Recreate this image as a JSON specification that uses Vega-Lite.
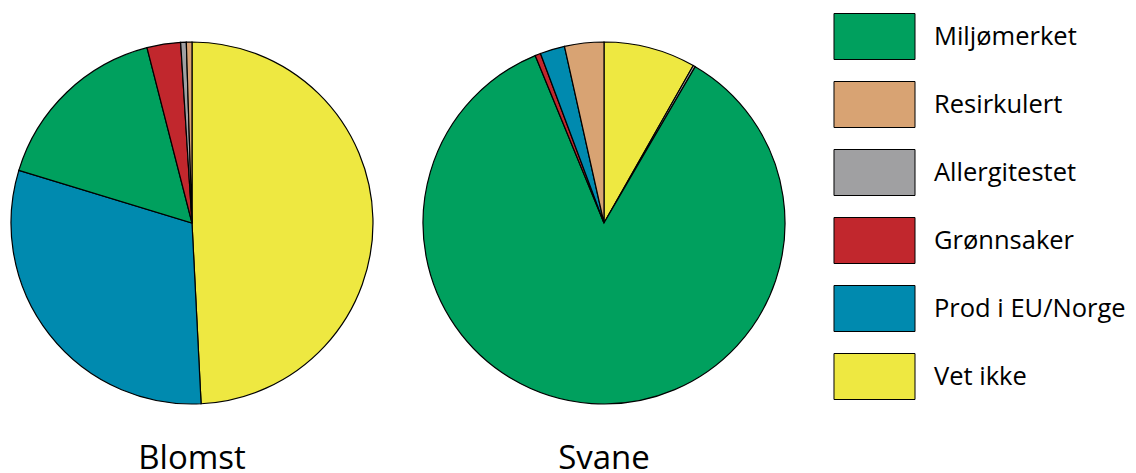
{
  "$schema": "https://vega.github.io/schema/vega-lite/v6.json",
  "padding": {"left": 8, "top": 13, "right": 0, "bottom": 0},
  "background": "white",
  "data": {"values": [
    {"chart": "Blomst", "category": "Vet ikke", "value": 49.2, "ord": 1},
    {"chart": "Blomst", "category": "Prod i EU/Norge", "value": 30.5, "ord": 2},
    {"chart": "Blomst", "category": "Miljømerket", "value": 16.3, "ord": 3},
    {"chart": "Blomst", "category": "Grønnsaker", "value": 3.0, "ord": 4},
    {"chart": "Blomst", "category": "Allergitestet", "value": 0.5, "ord": 5},
    {"chart": "Blomst", "category": "Resirkulert", "value": 0.5, "ord": 6},
    {"chart": "Svane", "category": "Vet ikke", "value": 8.2, "ord": 1},
    {"chart": "Svane", "category": "Allergitestet", "value": 0.2, "ord": 2},
    {"chart": "Svane", "category": "Miljømerket", "value": 85.3, "ord": 3},
    {"chart": "Svane", "category": "Grønnsaker", "value": 0.5, "ord": 4},
    {"chart": "Svane", "category": "Prod i EU/Norge", "value": 2.2, "ord": 5},
    {"chart": "Svane", "category": "Resirkulert", "value": 3.5, "ord": 6}
  ]},
  "facet": {
    "column": {
      "field": "chart",
      "type": "nominal",
      "header": {
        "title": null,
        "labelOrient": "bottom",
        "labelFont": "Open Sans",
        "labelFontSize": 33,
        "labelColor": "black",
        "labelBaseline": "alphabetic",
        "labelPadding": 36
      }
    }
  },
  "spacing": 44,
  "spec": {
    "width": 362,
    "height": 420,
    "mark": {"type": "arc", "stroke": "black", "strokeWidth": 1.2},
    "encoding": {
      "theta": {"field": "value", "type": "quantitative", "stack": true},
      "order": {"field": "ord", "type": "quantitative"},
      "color": {
        "field": "category",
        "type": "nominal",
        "scale": {
          "domain": ["Miljømerket", "Resirkulert", "Allergitestet", "Grønnsaker", "Prod i EU/Norge", "Vet ikke"],
          "range": ["#00A05E", "#D8A373", "#A0A0A2", "#C1272D", "#008AAF", "#EEE841"]
        },
        "legend": {
          "title": null,
          "orient": "right",
          "offset": 63,
          "padding": 0,
          "symbolType": "M-1.761,-1H1.761V1H-1.761Z",
          "symbolSize": 2116,
          "symbolStrokeColor": "black",
          "symbolStrokeWidth": 1,
          "symbolOpacity": 1,
          "rowPadding": 17,
          "labelOffset": 36,
          "labelFont": "Open Sans",
          "labelFontSize": 25.5,
          "labelColor": "black",
          "labelLimit": 400
        }
      }
    }
  },
  "config": {"view": {"stroke": null}}
}
